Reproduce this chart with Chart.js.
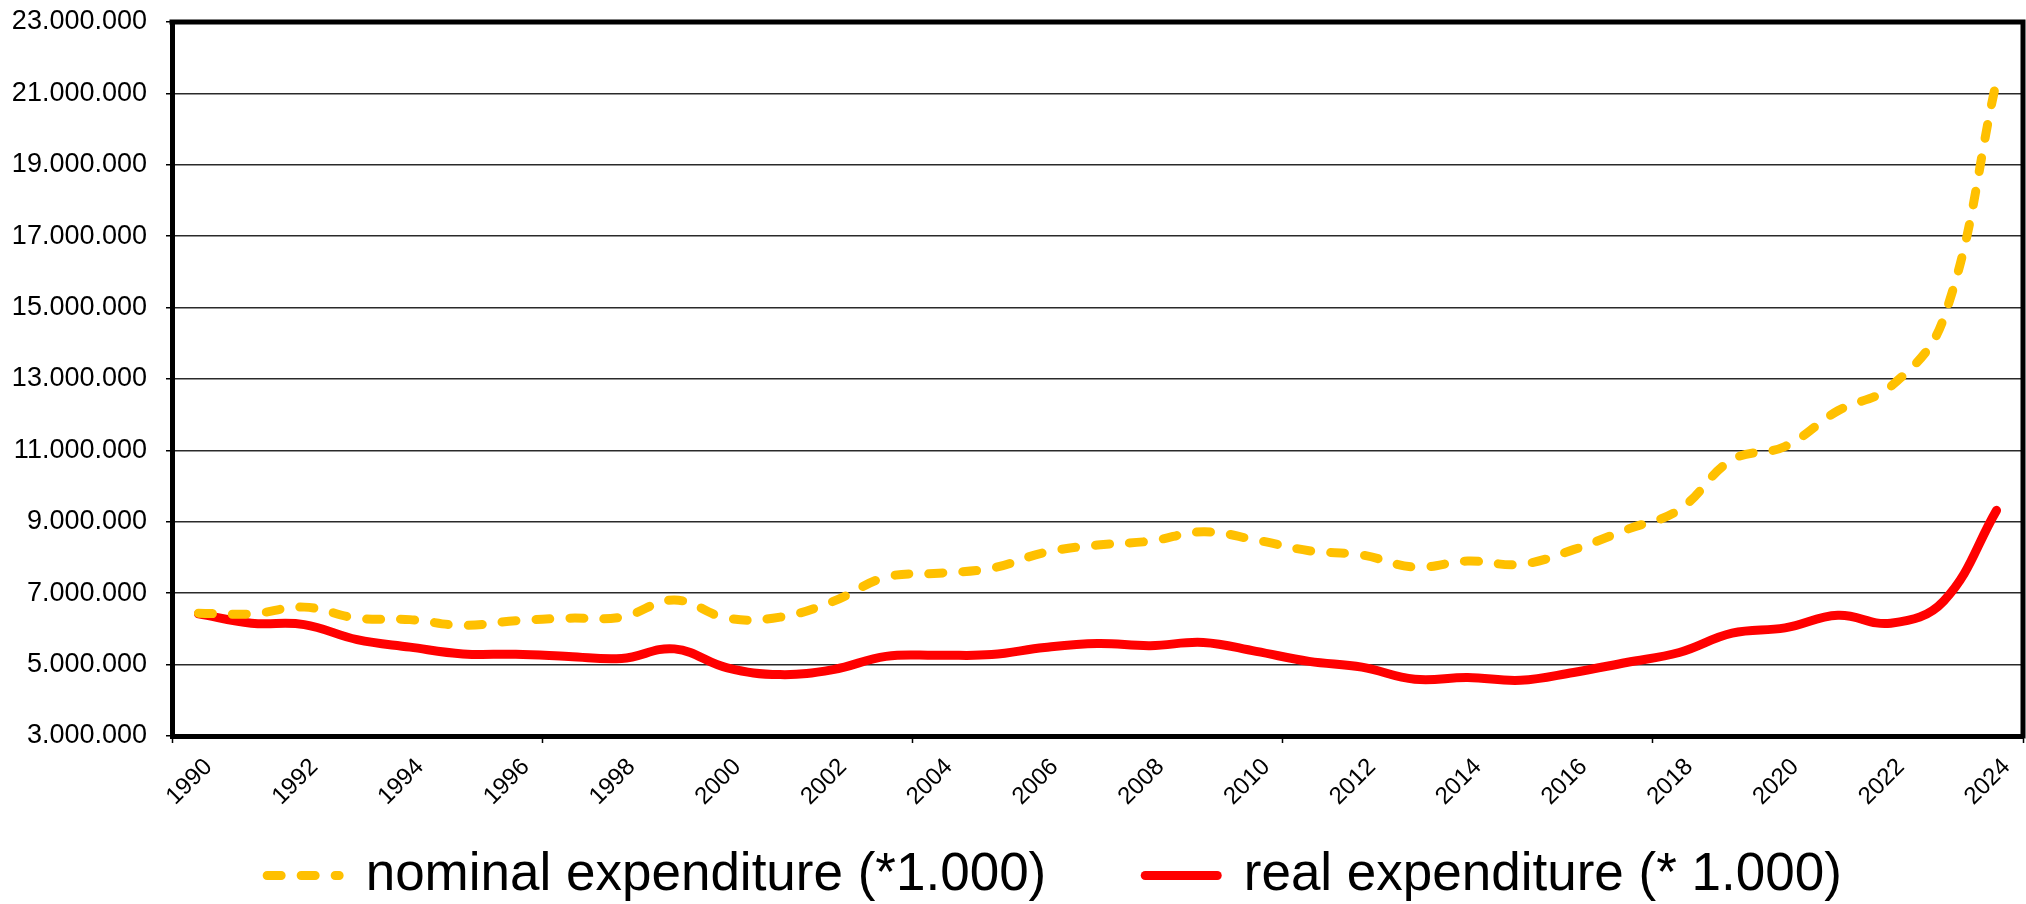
<!DOCTYPE html>
<html lang="en">
<head>
<meta charset="UTF-8">
<title>Nominal and real expenditure</title>
<style>
  html, body { margin: 0; padding: 0; background: #fff; }
  #chart { display: block; }
</style>
</head>
<body>
<canvas id="chart" width="2026" height="904"></canvas>
<script src="https://cdn.jsdelivr.net/npm/chart.js@4.4.1/dist/chart.umd.min.js"></script>
<script>
var years = ['1990', '1991', '1992', '1993', '1994', '1995', '1996', '1997', '1998', '1999',
             '2000', '2001', '2002', '2003', '2004', '2005', '2006', '2007', '2008', '2009',
             '2010', '2011', '2012', '2013', '2014', '2015', '2016', '2017', '2018', '2019',
             '2020', '2021', '2022', '2023', '2024'];

// values (thousands)
var nominalValues = [6440000, 6420000, 6610000, 6300000, 6260000, 6100000, 6230000, 6300000, 6330000, 6810000,
                     6300000, 6330000, 6770000, 7450000, 7560000, 7700000, 8140000, 8350000, 8460000, 8720000,
                     8490000, 8190000, 8070000, 7730000, 7900000, 7810000, 8220000, 8780000, 9340000, 10740000,
                     11110000, 12110000, 12790000, 14700000, 21350000];

var realValues = [6420000, 6160000, 6120000, 5700000, 5490000, 5300000, 5290000, 5230000, 5170000, 5440000,
                  4910000, 4720000, 4860000, 5230000, 5260000, 5280000, 5480000, 5590000, 5530000, 5620000,
                  5370000, 5090000, 4930000, 4590000, 4640000, 4560000, 4780000, 5060000, 5340000, 5880000,
                  6030000, 6380000, 6160000, 6780000, 9320000];

var yMin = 3000000;
var yMax = 23000000;
var yStep = 2000000;

var fontFamily = "'Liberation Sans', Arial, sans-serif";
var lineWidth = 9;

function withDots(v) {
    return String(v).replace(/\B(?=(\d{3})+(?!\d))/g, '.');
}

// top and right edge of the plot frame (left/bottom come from the axis borders)
var plotFrame = {
    id: 'plotFrame',
    afterLayout: function (chart) {
        // scales clip their labels to their own box, so open the boxes up
        chart.scales.y.left = 0;
        chart.scales.x.bottom = chart.height;
    },
    beforeDatasetsDraw: function (chart) {
        var a = chart.chartArea;
        var ctx = chart.ctx;
        ctx.save();
        ctx.strokeStyle = '#000';
        ctx.lineWidth = 5;
        ctx.beginPath();
        ctx.moveTo(a.left - 2.5, a.top);
        ctx.lineTo(a.right, a.top);
        ctx.lineTo(a.right, a.bottom + 2.5);
        ctx.stroke();
        ctx.restore();
    }
};

new Chart(document.getElementById('chart'), {
    type: 'line',
    data: {
        labels: years,
        datasets: [{
            label: 'nominal expenditure (*1.000)',
            data: nominalValues,
            borderColor: '#FFC000',
            backgroundColor: '#FFC000',
            borderWidth: lineWidth,
            borderDash: [14, 20],
            borderCapStyle: 'round',
            borderJoinStyle: 'round',
            tension: 0.4,
            pointRadius: 0,
            fill: false
        }, {
            label: 'real expenditure (* 1.000)',
            data: realValues,
            borderColor: '#FF0000',
            backgroundColor: '#FF0000',
            borderWidth: lineWidth,
            borderCapStyle: 'round',
            borderJoinStyle: 'round',
            tension: 0.4,
            pointRadius: 0,
            fill: false
        }]
    },
    options: {
        responsive: false,
        animation: false,
        devicePixelRatio: 1,
        layout: {
            autoPadding: false,
            padding: { left: 86, right: 3, top: 22, bottom: -8 }
        },
        plugins: {
            legend: {
                position: 'bottom',
                labels: {
                    usePointStyle: true,
                    pointStyle: 'line',
                    pointStyleWidth: 72,
                    padding: 99,
                    color: '#000',
                    font: { family: fontFamily, size: 53 },
                    generateLabels: function (chart) {
                        var items = Chart.defaults.plugins.legend.labels.generateLabels(chart);
                        items.forEach(function (item) {
                            var ds = chart.data.datasets[item.datasetIndex];
                            item.strokeStyle = ds.borderColor;
                            item.lineWidth = lineWidth;
                            item.lineDash = ds.borderDash || [];
                            item.lineCap = 'round';
                        });
                        return items;
                    }
                }
            },
            tooltip: { enabled: false }
        },
        scales: {
            x: {
                offset: true,
                afterFit: function (scale) {
                    scale.height = 14;
                    scale.paddingLeft = 0;
                    scale.paddingRight = 0;
                },
                grid: {
                    offset: true,
                    drawOnChartArea: false,
                    tickLength: 7,
                    tickWidth: 1.5,
                    tickColor: function (c) {
                        return (c.index === undefined || c.index % 7 === 0) ? '#000' : 'rgba(0,0,0,0)';
                    }
                },
                border: { color: '#000', width: 5 },
                ticks: {
                    autoSkip: false,
                    maxRotation: 45,
                    minRotation: 45,
                    padding: 10,
                    labelOffset: 10,
                    color: '#000',
                    font: { family: fontFamily, size: 24 },
                    callback: function (value, index) {
                        return index % 2 === 0 ? this.getLabelForValue(value) : '';
                    }
                }
            },
            y: {
                min: yMin,
                max: yMax,
                afterFit: function (scale) {
                    scale.width = 86;
                    scale.paddingTop = 0;
                    scale.paddingBottom = 0;
                },
                grid: {
                    color: '#2a2a2a',
                    lineWidth: 1.5,
                    tickLength: 6,
                    tickColor: '#000'
                },
                border: { color: '#000', width: 5 },
                ticks: {
                    stepSize: yStep,
                    padding: 19,
                    color: '#000',
                    font: { family: fontFamily, size: 27 },
                    callback: function (v) { return withDots(v); }
                }
            }
        }
    },
    plugins: [plotFrame]
});
</script>
</body>
</html>
